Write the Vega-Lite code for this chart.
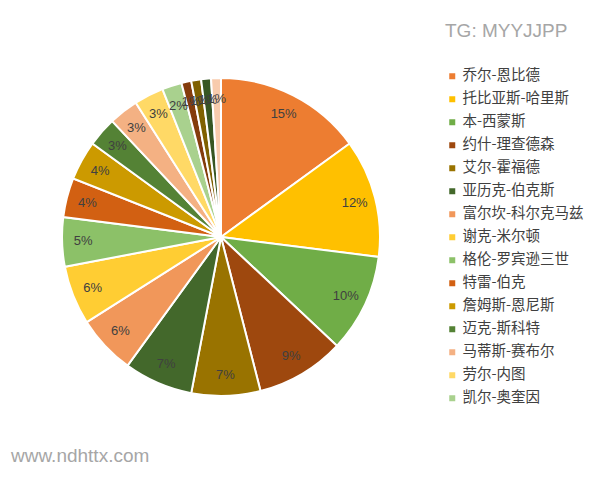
{
  "$schema": "https://vega.github.io/schema/vega-lite/v6.json",
  "autosize": "none",
  "width": 318,
  "height": 360,
  "padding": {"left": 62, "top": 57, "right": 220, "bottom": 63},
  "background": "#ffffff",
  "title": {
    "text": "www.ndhttx.com",
    "orient": "bottom",
    "anchor": "start",
    "offset": 30,
    "dx": -47,
    "font": "Liberation Sans",
    "fontSize": 19,
    "fontWeight": "normal",
    "color": "#a6a6a6"
  },
  "config": {"view": {"stroke": null}},
  "data": {
    "values": [
      {"rank": 1, "player": "乔尔-恩比德", "share": 0.15},
      {"rank": 2, "player": "托比亚斯-哈里斯", "share": 0.12},
      {"rank": 3, "player": "本-西蒙斯", "share": 0.10},
      {"rank": 4, "player": "约什-理查德森", "share": 0.09},
      {"rank": 5, "player": "艾尔-霍福德", "share": 0.07},
      {"rank": 6, "player": "亚历克-伯克斯", "share": 0.07},
      {"rank": 7, "player": "富尔坎-科尔克马兹", "share": 0.06},
      {"rank": 8, "player": "谢克-米尔顿", "share": 0.06},
      {"rank": 9, "player": "格伦-罗宾逊三世", "share": 0.05},
      {"rank": 10, "player": "特雷-伯克", "share": 0.04},
      {"rank": 11, "player": "詹姆斯-恩尼斯", "share": 0.04},
      {"rank": 12, "player": "迈克-斯科特", "share": 0.03},
      {"rank": 13, "player": "马蒂斯-赛布尔", "share": 0.03},
      {"rank": 14, "player": "劳尔-内图", "share": 0.03},
      {"rank": 15, "player": "凯尔-奥奎因", "share": 0.02},
      {"rank": 16, "player": "诺维尔-佩勒", "share": 0.01},
      {"rank": 17, "player": "扎伊尔-史密斯", "share": 0.01},
      {"rank": 18, "player": "马里亚尔-沙约克", "share": 0.01},
      {"rank": 19, "player": "莱恩-布鲁克霍夫", "share": 0.01}
    ]
  },
  "encoding": {
    "theta": {"field": "share", "type": "quantitative", "stack": true},
    "order": {"field": "rank", "type": "quantitative"}
  },
  "layer": [
    {
      "mark": {"type": "arc", "outerRadius": 159, "stroke": "#ffffff", "strokeWidth": 2},
      "encoding": {
        "color": {
          "field": "player",
          "type": "nominal",
          "scale": {
            "domain": ["乔尔-恩比德", "托比亚斯-哈里斯", "本-西蒙斯", "约什-理查德森", "艾尔-霍福德", "亚历克-伯克斯", "富尔坎-科尔克马兹", "谢克-米尔顿", "格伦-罗宾逊三世", "特雷-伯克", "詹姆斯-恩尼斯", "迈克-斯科特", "马蒂斯-赛布尔", "劳尔-内图", "凯尔-奥奎因", "诺维尔-佩勒", "扎伊尔-史密斯", "马里亚尔-沙约克", "莱恩-布鲁克霍夫"],
            "range": ["#ED7D31", "#FFC000", "#70AD47", "#9E480E", "#997300", "#43682B", "#F1975A", "#FFCD33", "#8CC168", "#D26012", "#CC9A00", "#548235", "#F4B183", "#FFD966", "#A9D18E", "#843C0C", "#7F6000", "#375623", "#F8CBAD"]
          },
          "legend": {
            "orient": "none",
            "legendX": 383,
            "legendY": -35,
            "values": ["乔尔-恩比德", "托比亚斯-哈里斯", "本-西蒙斯", "约什-理查德森", "艾尔-霍福德", "亚历克-伯克斯", "富尔坎-科尔克马兹", "谢克-米尔顿", "格伦-罗宾逊三世", "特雷-伯克", "詹姆斯-恩尼斯", "迈克-斯科特", "马蒂斯-赛布尔", "劳尔-内图", "凯尔-奥奎因"],
            "title": "TG: MYYJJPP",
            "titleFont": "Liberation Sans",
            "titleFontSize": 19,
            "titleFontWeight": "normal",
            "titleColor": "#a6a6a6",
            "titlePadding": 28,
            "labelFont": "Noto Sans CJK SC",
            "labelFontSize": 14.5,
            "labelColor": "#404040",
            "labelOffset": 3,
            "symbolType": "square",
            "symbolSize": 36,
            "symbolStrokeWidth": 0,
            "rowPadding": 8
          }
        }
      }
    },
    {
      "mark": {"type": "text", "radius": 138, "font": "Liberation Sans", "fontSize": 13, "color": "#404040"},
      "encoding": {
        "text": {"field": "share", "type": "quantitative", "format": ".0%"}
      }
    }
  ]
}
